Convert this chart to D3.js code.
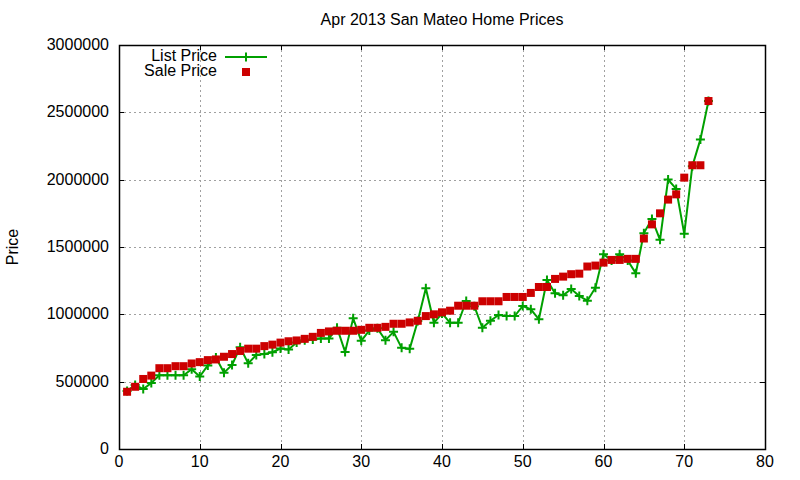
<!DOCTYPE html>
<html><head><meta charset="utf-8">
<script src="https://cdn.jsdelivr.net/npm/d3@7"></script>
<style>body{margin:0;background:#fff}svg{display:block}text{font-family:"Liberation Sans",Arial,sans-serif}</style>
</head><body>
<script>
const title = "Apr 2013 San Mateo Home Prices";
const yLabel = "Price";
const seriesNames = ["List Price", "Sale Price"];
const xTicks = [0,10,20,30,40,50,60,70,80];
const yTicks = [0,500000,1000000,1500000,2000000,2500000,3000000];
const listPrice = [430000,475000,445000,490000,548000,548000,548000,548000,592000,538000,
  620000,680000,567000,624000,755000,636000,698000,705000,719000,746000,
  739000,790000,808000,813000,821000,821000,900000,721000,970000,803000,
  880000,896000,808000,870000,751000,744000,950000,1194000,937000,1007000,
  937000,937000,1099000,1060000,900000,952000,995000,987000,987000,1062000,
  1037000,963000,1255000,1156000,1141000,1188000,1136000,1101000,1198000,1447000,
  1400000,1447000,1400000,1305000,1603000,1708000,1553000,2001000,1931000,1598000,
  2100000,2299000,2584000];
const salePrice = [425000,462000,520000,545000,600000,600000,615000,615000,635000,645000,
  660000,665000,685000,705000,728000,745000,745000,764000,775000,790000,
  800000,806000,818000,833000,862000,873000,878000,878000,878000,885000,
  900000,900000,907000,930000,930000,940000,952000,987000,1000000,1015000,
  1027000,1064000,1064000,1064000,1097000,1097000,1097000,1129000,1129000,1129000,
  1159000,1203000,1203000,1263000,1280000,1298000,1302000,1355000,1362000,1384000,
  1404000,1404000,1412000,1412000,1563000,1668000,1750000,1852000,1891000,2015000,
  2107000,2107000,2584000];

const W=800,H=480, L=119, R=765, T=45, B=449;
const green="#00a000", red="#cc0000";
const svg=d3.select("body").append("svg").attr("width",W).attr("height",H);
const x=d3.scaleLinear().domain([0,80]).range([L,R]);
const y=d3.scaleLinear().domain([0,3000000]).range([B,T]);

// grid
const g=svg.append("g").attr("stroke","#a0a0a0").attr("stroke-width",1).attr("stroke-dasharray","2,3");
g.selectAll(".gx").data(xTicks.slice(1,-1)).join("line")
  .attr("x1",d=>Math.round(x(d))+0.5).attr("x2",d=>Math.round(x(d))+0.5).attr("y1",T).attr("y2",B);
g.selectAll(".gy").data(yTicks.slice(1,-1)).join("line")
  .attr("y1",d=>Math.round(y(d))+0.5).attr("y2",d=>Math.round(y(d))+0.5).attr("x1",L).attr("x2",R);

// axes (gnuplot-like inward ticks, mirrored)
const ax=svg.append("g").attr("stroke","#000").attr("stroke-width",1);
ax.selectAll(".tb").data(xTicks).join("line")
  .attr("x1",d=>Math.round(x(d))+0.5).attr("x2",d=>Math.round(x(d))+0.5).attr("y1",B).attr("y2",B-5);
ax.selectAll(".tt").data(xTicks).join("line")
  .attr("x1",d=>Math.round(x(d))+0.5).attr("x2",d=>Math.round(x(d))+0.5).attr("y1",T).attr("y2",T+5);
ax.selectAll(".tl").data(yTicks).join("line")
  .attr("y1",d=>Math.round(y(d))+0.5).attr("y2",d=>Math.round(y(d))+0.5).attr("x1",L).attr("x2",L+5);
ax.selectAll(".tr").data(yTicks).join("line")
  .attr("y1",d=>Math.round(y(d))+0.5).attr("y2",d=>Math.round(y(d))+0.5).attr("x1",R).attr("x2",R-5);
svg.append("rect").attr("x",L+0.5).attr("y",T+0.5).attr("width",R-L).attr("height",B-T)
  .attr("fill","none").attr("stroke","#000").attr("stroke-width",1.5);

svg.append("g").selectAll("text").data(xTicks).join("text")
  .attr("x",d=>x(d)).attr("y",B+18).attr("text-anchor","middle").attr("font-size",16).text(d=>d);
svg.append("g").selectAll("text").data(yTicks).join("text")
  .attr("x",L-10).attr("y",d=>y(d)+5).attr("text-anchor","end").attr("font-size",16).text(d=>d);

svg.append("text").attr("x",442).attr("y",25).attr("text-anchor","middle").attr("font-size",16).text(title);
svg.append("text").attr("transform","translate(18,247) rotate(-90)").attr("text-anchor","middle").attr("font-size",16).text(yLabel);

// list price line + markers
const idx=d3.range(1,listPrice.length+1);
const line=d3.line().x(d=>x(d[0])).y(d=>y(d[1]));
svg.append("path").datum(idx.map((i,k)=>[i,listPrice[k]])).attr("d",line)
  .attr("fill","none").attr("stroke",green).attr("stroke-width",2);
function plus(sel){ sel.attr("d","M-4.5,0H4.5M0,-4.5V4.5").attr("stroke",green).attr("stroke-width",2).attr("fill","none"); }
svg.append("g").selectAll("path").data(idx.map((i,k)=>[i,listPrice[k]])).join("path")
  .attr("transform",d=>`translate(${x(d[0])},${y(d[1])})`).call(plus);

// sale squares
svg.append("g").selectAll("rect").data(idx.map((i,k)=>[i,salePrice[k]])).join("rect")
  .attr("x",d=>x(d[0])-4).attr("y",d=>y(d[1])-4).attr("width",8).attr("height",8).attr("fill",red);

// legend
svg.append("text").attr("x",217).attr("y",61).attr("text-anchor","end").attr("font-size",16).text(seriesNames[0]);
svg.append("text").attr("x",217).attr("y",76).attr("text-anchor","end").attr("font-size",16).text(seriesNames[1]);
svg.append("line").attr("x1",225).attr("x2",267).attr("y1",57).attr("y2",57).attr("stroke",green).attr("stroke-width",2);
svg.append("path").attr("transform","translate(246,57)").call(plus);
svg.append("rect").attr("x",242).attr("y",68).attr("width",8).attr("height",8).attr("fill",red);
</script>
</body></html>
